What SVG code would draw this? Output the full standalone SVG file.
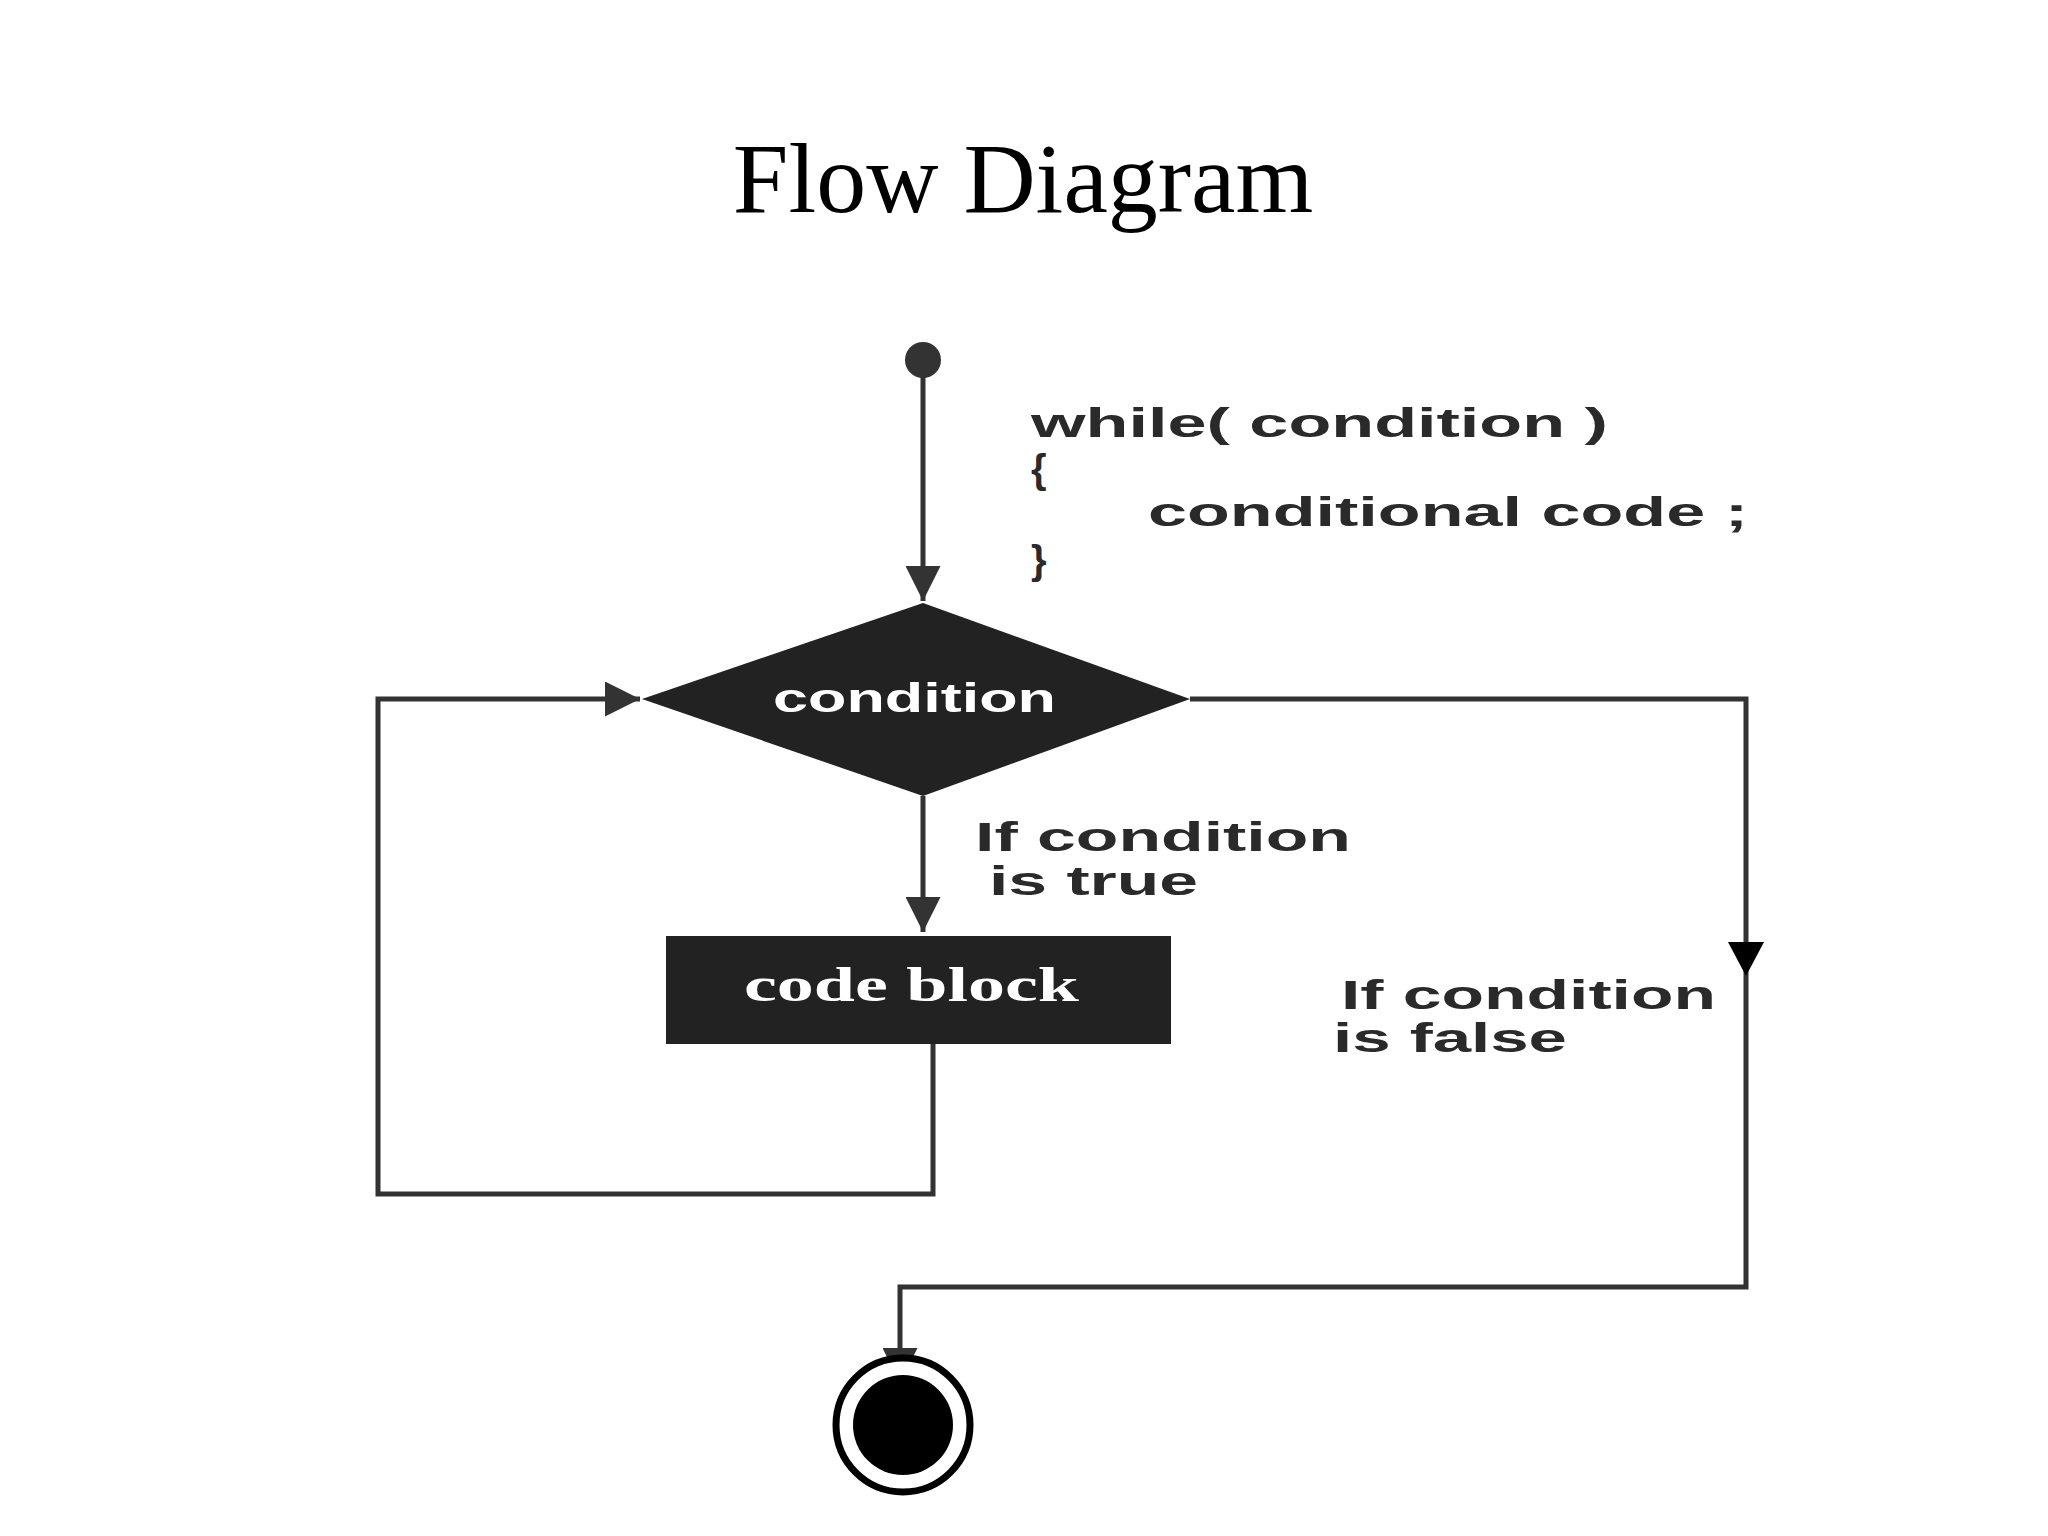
<svg xmlns="http://www.w3.org/2000/svg" width="2048" height="1536" viewBox="0 0 2048 1536">
<style>
.ln{fill:none;stroke:#333;stroke-width:5}
.lbl{font-family:"Liberation Sans",Arial,sans-serif;font-weight:bold;font-size:40px;fill:#2a2a2a}
.wt{fill:#fff}
</style>
<defs>
<marker id="ah2" viewBox="0 0 10 10" refX="10" refY="5" markerWidth="7" markerHeight="7" orient="auto"><path d="M0,0L10,5L0,10z" fill="#333"/></marker>
</defs>
<rect width="2048" height="1536" fill="#fff"/>
<text x="1023" y="212" text-anchor="middle" font-family="Liberation Serif,serif" font-size="100">Flow Diagram</text>
<g id="connectors">
<line class="ln" x1="923" y1="376" x2="923" y2="601" marker-end="url(#ah2)"/>
<line class="ln" x1="923" y1="796" x2="923" y2="932" marker-end="url(#ah2)"/>
<polyline class="ln" points="933,1044 933,1194 378,1194 378,699 640,699" marker-end="url(#ah2)"/>
<polyline class="ln" points="1190,699 1746,699 1746,1287 900,1287 900,1383" marker-end="url(#ah2)"/>
<path d="M1728,942L1764,942L1746,976z" fill="#000"/>
</g>
<g id="start"><circle cx="923" cy="360" r="18" fill="#333"/></g>
<g id="code"><text class="lbl" x="1031" y="437" textLength="577" lengthAdjust="spacingAndGlyphs">while( condition )</text>
<text class="lbl" x="1031" y="483">{</text>
<text class="lbl" x="1148" y="526" textLength="600" lengthAdjust="spacingAndGlyphs">conditional code ;</text>
<text class="lbl" x="1031" y="574">}</text></g>
<g id="condition"><path d="M923,603L1190,699L923,796L642,699z" fill="#222"/>
<text class="lbl wt" x="773" y="712" textLength="283" lengthAdjust="spacingAndGlyphs" font-size="36">condition</text></g>
<g id="true-label"><text class="lbl" x="975" y="851" textLength="376" lengthAdjust="spacingAndGlyphs">If condition</text><text class="lbl" x="989" y="895" textLength="209" lengthAdjust="spacingAndGlyphs">is true</text></g>
<g id="codeblock"><rect x="666" y="936" width="505" height="108" fill="#222"/>
<text x="744" y="1001" textLength="335" lengthAdjust="spacingAndGlyphs" font-family="Liberation Serif,serif" font-weight="bold" font-size="48" fill="#fff">code block</text></g>
<g id="false-label"><text class="lbl" x="1341" y="1009" textLength="375" lengthAdjust="spacingAndGlyphs">If condition</text><text class="lbl" x="1333" y="1052" textLength="234" lengthAdjust="spacingAndGlyphs">is false</text></g>
<g id="end"><circle cx="903" cy="1425" r="67" fill="#fff" stroke="#000" stroke-width="7"/><circle cx="903" cy="1425" r="50" fill="#000"/></g>
</svg>
